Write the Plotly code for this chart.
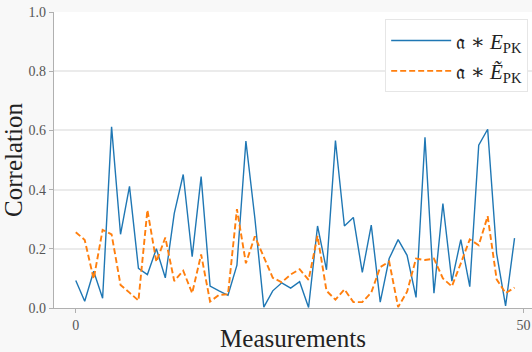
import plotly.graph_objects as go

x_vals = list(range(50))
blue_vals = [0.093, 0.023, 0.124, 0.033, 0.612, 0.249, 0.411, 0.134, 0.113, 0.200,
             0.102, 0.320, 0.451, 0.173, 0.444, 0.074, 0.058, 0.043, 0.145, 0.564,
             0.304, 0.003, 0.058, 0.085, 0.067, 0.089, 0.002, 0.277, 0.129, 0.566,
             0.277, 0.306, 0.120, 0.280, 0.020, 0.167, 0.231, 0.178, 0.036, 0.577,
             0.050, 0.353, 0.091, 0.231, 0.072, 0.550, 0.604, 0.184, 0.007, 0.236]
orange_vals = [0.256, 0.230, 0.098, 0.264, 0.249, 0.078, 0.052, 0.025, 0.331, 0.156,
               0.238, 0.091, 0.126, 0.050, 0.181, 0.022, 0.044, 0.046, 0.334, 0.151,
               0.242, 0.173, 0.102, 0.087, 0.113, 0.131, 0.095, 0.244, 0.058, 0.028,
               0.063, 0.020, 0.020, 0.052, 0.138, 0.157, 0.003, 0.055, 0.167, 0.162,
               0.167, 0.100, 0.073, 0.151, 0.232, 0.212, 0.310, 0.097, 0.050, 0.069]
star = "<span style='font-family:DejaVu Serif'>∗</span>"
blue_name = "𝔞 " + star + " <i>E</i><sub>PK</sub>"
orange_name = "𝔞 " + star + " <i>Ẽ</i><sub>PK</sub>"
y_ticks = [0.0, 0.2, 0.4, 0.6, 0.8, 1.0]
y_tick_text = ["0.0", "0.2", "0.4", "0.6", "0.8", "1.0"]
x_ticks = [0, 50]

serif = "Liberation Serif"

fig = go.Figure()
fig.add_trace(go.Scatter(x=x_vals, y=blue_vals, mode="lines", name=blue_name,
                         line=dict(color="#1f77b4", width=1.4)))
fig.add_trace(go.Scatter(x=x_vals, y=orange_vals, mode="lines", name=orange_name,
                         line=dict(color="#ff7f0e", width=1.9, dash="6px,3px")))

tick_font = dict(family=serif, size=14, color="#555555")

fig.update_layout(
    width=532, height=352,
    margin=dict(l=54, r=0, t=12, b=36),
    paper_bgcolor="#f8f8f8",
    plot_bgcolor="white",
    font=dict(family=serif, color="#333333", size=14),
    legend=dict(x=0.992, y=0.975, xanchor="right", yanchor="top",
                bgcolor="white", bordercolor="#e6e6e6", borderwidth=1,
                font=dict(size=21, family=serif, color="#222222"),
                itemwidth=60),
    xaxis=dict(range=[-2.43, 50.95], tickvals=x_ticks, showgrid=False,
               tickfont=tick_font,
               showline=True, linecolor="#b0b0b0", linewidth=1.2,
               ticks="outside", ticklen=4, tickcolor="#b0b0b0",
               zeroline=False,
               title=dict(text="Measurements", font=dict(size=25, family=serif, color="#222222"),
                          standoff=2)),
    yaxis=dict(range=[0, 1], tickvals=y_ticks, ticktext=y_tick_text,
               tickfont=tick_font,
               showgrid=True, gridcolor="#ebebeb", gridwidth=1.5,
               showline=True, linecolor="#b0b0b0", linewidth=1.2,
               ticks="outside", ticklen=4, tickcolor="#b0b0b0",
               zeroline=False,
               title=dict(text="Correlation", font=dict(size=25, family=serif, color="#222222"),
                          standoff=2)),
)

fig.write_html("out.html")
